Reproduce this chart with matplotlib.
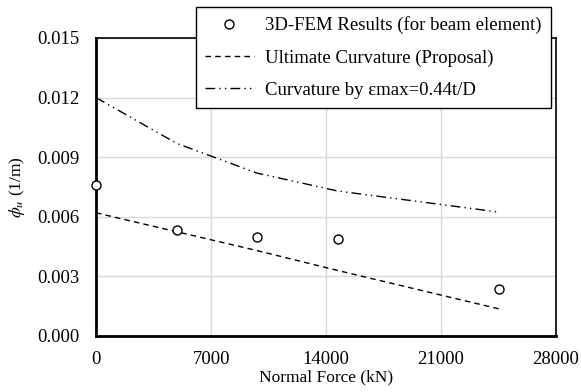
import matplotlib.pyplot as plt
from matplotlib.ticker import FormatStrFormatter

plt.rcParams['font.family'] = ['Liberation Serif', 'DejaVu Serif']
plt.rcParams['mathtext.fontset'] = 'stix'

# Normal force (kN) and curvature (1/m)
fem_force = [0, 4900, 9800, 14700, 24500]
fem_curv = [0.0076, 0.00534, 0.00498, 0.00488, 0.00237]

line_force = [0, 4900, 9800, 14700, 24500]
curv_proposal = [0.0062, 0.00525, 0.0043, 0.0033, 0.00137]
curv_emax = [0.0120, 0.0097, 0.0082, 0.0073, 0.00624]

xticks = [0, 7000, 14000, 21000, 28000]
yticks = [0.000, 0.003, 0.006, 0.009, 0.012, 0.015]

fig = plt.figure(figsize=(5.81, 3.92), dpi=100)
ax = fig.add_axes([96/581, 56/392, 460/581, 298/392])

ax.plot(fem_force, fem_curv, 'o', ms=6.5, mfc='white', mec='black', mew=1.0,
        clip_on=False, zorder=5, label='3D-FEM Results (for beam element)')
ax.plot(line_force, curv_proposal, color='black', lw=1.0, ls=(0, (4, 3)),
        label='Ultimate Curvature (Proposal)')
ax.plot(line_force, curv_emax, color='black', lw=1.0, ls=(0, (7, 3, 1, 3, 1, 3)),
        label='Curvature by \u03b5max=0.44t/D')

ax.set_xlim(0, 28000)
ax.set_ylim(0, 0.015)
ax.set_xticks(xticks)
ax.set_yticks(yticks)
ax.yaxis.set_major_formatter(FormatStrFormatter('%.3f'))
ax.tick_params(length=0, labelsize=13.5)
ax.tick_params(axis='y', pad=12)
ax.tick_params(axis='x', pad=11)
ax.grid(True, color='#d9d9d9', lw=1.0)
ax.set_axisbelow(True)

for s in ['left', 'bottom']:
    ax.spines[s].set_linewidth(2.0)
for s in ['top', 'right']:
    ax.spines[s].set_linewidth(1.2)

ax.set_xlabel('Normal Force (kN)', fontsize=12.5, labelpad=1)
ax.set_ylabel(r'$\phi_u$ (1/m)', fontsize=12.5, labelpad=7)

leg = ax.legend(loc='upper right', bbox_to_anchor=(0.989, 1.104), fontsize=13.5,
                borderaxespad=0, frameon=True, fancybox=False, edgecolor='black',
                framealpha=1, handlelength=2.6, handletextpad=0.6,
                borderpad=0.5, labelspacing=0.8)
leg.get_frame().set_linewidth(1.0)

fig.savefig('out.png', dpi=100)
